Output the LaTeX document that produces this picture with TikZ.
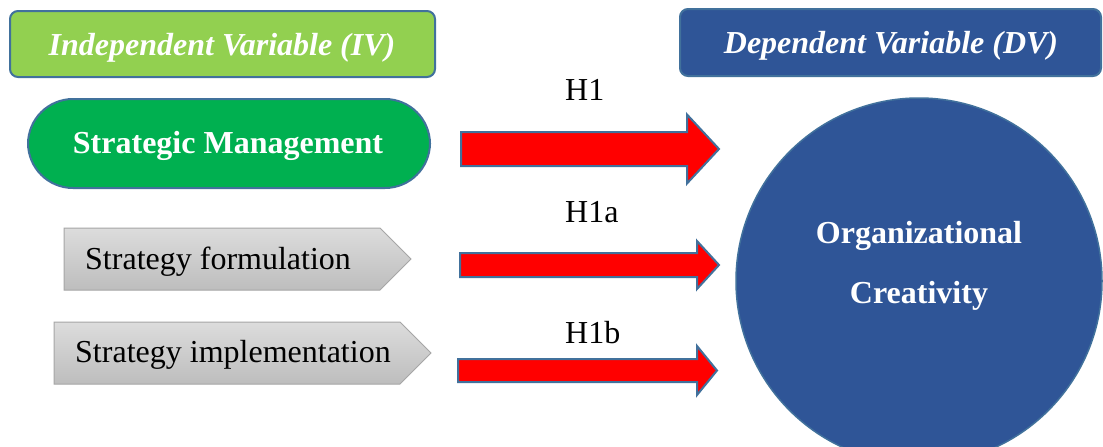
\documentclass[tikz,border=0pt]{standalone}
\usepackage{fontspec}
\setmainfont{Liberation Serif}
\definecolor{ivgreen}{HTML}{92D050}
\definecolor{smgreen}{HTML}{00B050}
\definecolor{dvblue}{HTML}{2F5597}
\definecolor{edgeblue}{HTML}{41719C}
\definecolor{arrred}{HTML}{FF0000}
\definecolor{pentop}{HTML}{DCDCDC}
\definecolor{penbot}{HTML}{BDBDBD}
\definecolor{penedge}{HTML}{A6A6A6}
\tikzset{
  big/.style={font=\fontsize{32}{38}\selectfont},
  hdr/.style={draw=edgeblue, line width=2pt, rounded corners=8pt},
  hlabel/.style={big, text=black, anchor=base west, inner sep=0pt},
  redarrow/.style={fill=arrred, draw=edgeblue, line width=2pt, line join=miter},
  penta/.style={draw=penedge, line width=1pt, top color=pentop, bottom color=penbot},
}
\newcommand{\blockarrow}[6]{% x0, ycenter, halfshaft, headx, halfhead, tipx
  \filldraw[redarrow] (#1,#2-#3) -- (#4,#2-#3) -- (#4,#2-#5) -- (#6,#2) -- (#4,#2+#5) -- (#4,#2+#3) -- (#1,#2+#3) -- cycle;}
\begin{document}
\begin{tikzpicture}[x=1pt,y=-1pt]
\useasboundingbox (0,0) rectangle (1103,447);
\clip (0,0) rectangle (1103,447);
\fill[white] (0,0) rectangle (1103,447);
% header boxes
\draw[hdr, fill=ivgreen] (10,11) rectangle (435,77);
\node[text=white, font=\fontsize{32}{38}\selectfont\bfseries\itshape, anchor=base, inner sep=0pt] (iv) at (222,55) {Independent Variable (IV)};
\draw[hdr, fill=dvblue] (680,9) rectangle (1101,76);
\node[text=white, font=\fontsize{32}{38}\selectfont\bfseries\itshape, anchor=base, inner sep=0pt] (dv) at (891,53) {Dependent Variable (DV)};
% strategic management
\draw[draw=edgeblue, line width=2pt, fill=smgreen, rounded corners=45pt] (28,99) rectangle (430,188);
\node[text=white, font=\fontsize{32}{38}\selectfont\bfseries, anchor=base, inner sep=0pt] (sm) at (228,153) {Strategic Management};
% pentagons
\draw[penta] (64,228) -- (380,228) -- (411,259) -- (380,290) -- (64,290) -- cycle;
\node[big, anchor=base west, inner sep=0pt] (sf) at (85,269) {Strategy formulation};
\draw[penta] (54,322) -- (400,322) -- (431,353) -- (400,384) -- (54,384) -- cycle;
\node[big, anchor=base west, inner sep=0pt] (si) at (75,362) {Strategy implementation};
% circle
\node[circle, draw=edgeblue, line width=1.5pt, fill=dvblue, minimum size=366pt, inner sep=0pt] (oc) at (919,281) {};
\node[text=white, font=\fontsize{32}{38}\selectfont\bfseries, anchor=base, inner sep=0pt] (oc1) at (919,243) {Organizational};
\node[text=white, font=\fontsize{32}{38}\selectfont\bfseries, anchor=base, inner sep=0pt] (oc2) at (919,303) {Creativity};
% arrows
\blockarrow{461}{149}{17}{687}{34.5}{719}
\blockarrow{460}{265}{12}{697}{24}{719}
\blockarrow{458}{370.5}{11.5}{697}{24.5}{717}
% labels
\node[hlabel] (h1) at (565,100) {H1};
\node[hlabel] (h1a) at (565,222) {H1a};
\node[hlabel] (h1b) at (565,343) {H1b};
\end{tikzpicture}
\end{document}
